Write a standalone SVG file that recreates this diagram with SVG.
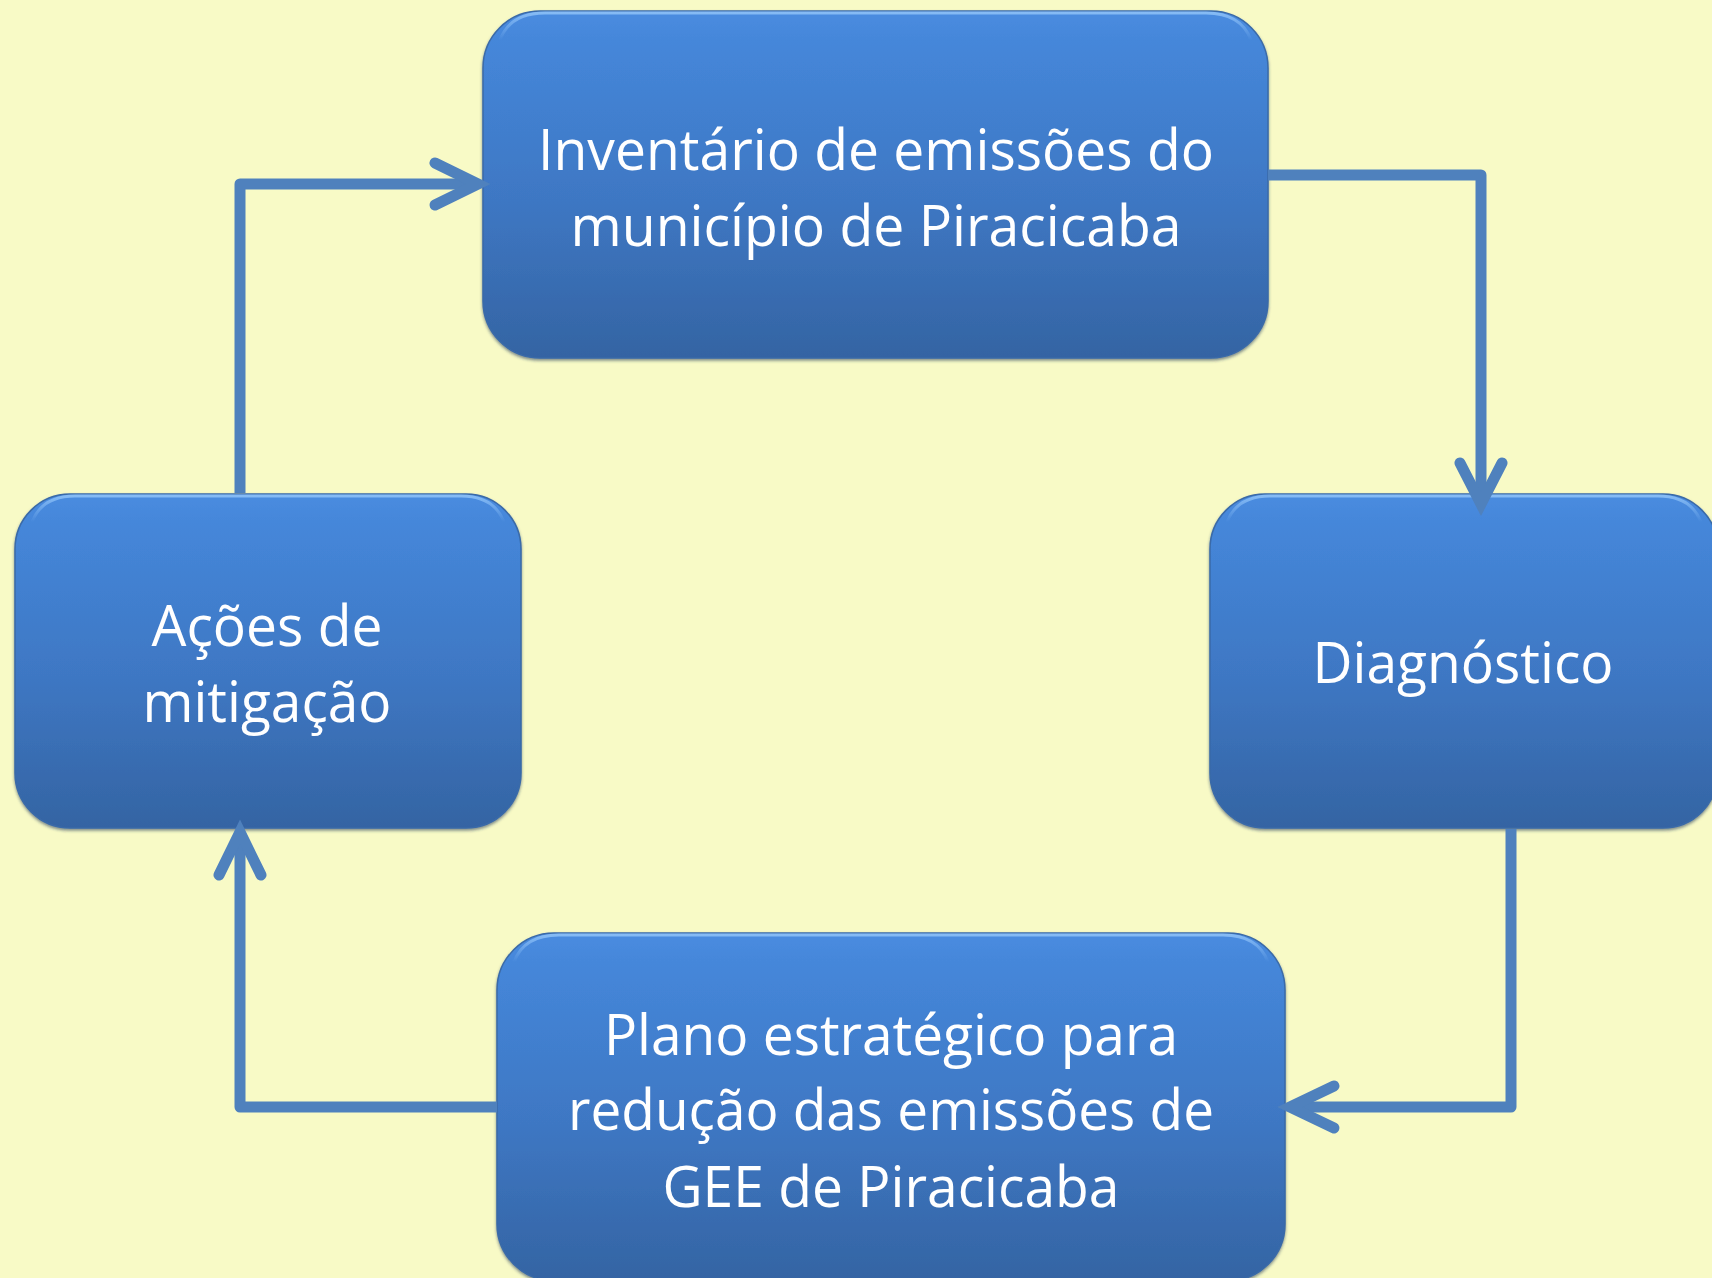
<svg xmlns="http://www.w3.org/2000/svg" width="1712" height="1278" viewBox="0 0 1712 1278">
  <defs>
    <linearGradient id="boxGrad" x1="0" y1="0" x2="0" y2="1">
      <stop offset="0" stop-color="#4a8ce0"/>
      <stop offset="0.08" stop-color="#4587da"/>
      <stop offset="0.55" stop-color="#3e77c3"/>
      <stop offset="1" stop-color="#3464a3"/>
    </linearGradient>
    <linearGradient id="hiGrad" x1="0" y1="0" x2="0" y2="1">
      <stop offset="0" stop-color="#8cc0f7" stop-opacity="0.9"/>
      <stop offset="1" stop-color="#8cc0f7" stop-opacity="0"/>
    </linearGradient>
    <filter id="shadow" x="-5%" y="-5%" width="110%" height="115%">
      <feDropShadow dx="0" dy="2" stdDeviation="1.5" flood-color="#1c3558" flood-opacity="0.55"/>
    </filter>
  </defs>
  <style>
    .box { fill: url(#boxGrad); stroke: #3a6aa8; stroke-width: 1.5; filter: url(#shadow); }
    .hi { fill: none; stroke: url(#hiGrad); stroke-width: 3; }
    .lbl { font-family: "Open Sans", "Noto Sans", "Liberation Sans", sans-serif; font-size: 57px; fill: #ffffff; text-anchor: middle; }
    .conn { fill: none; stroke: #4f81bd; stroke-width: 11; stroke-linejoin: round; }
    .head { fill: none; stroke: #4f81bd; stroke-width: 11; stroke-linecap: round; stroke-linejoin: miter; }
  </style>
  <rect x="0" y="0" width="1712" height="1278" fill="#f8fac6"/>

  <g id="node-inventario">
    <rect class="box" x="483" y="11" width="785" height="347" rx="57" ry="57"/>
    <path class="hi" d="M 500 40 Q 510 13 545 13 H 1206 Q 1241 13 1251 40"/>
    <text class="lbl" x="876" y="170" textLength="676" lengthAdjust="spacingAndGlyphs">Inventário de emissões do</text>
    <text class="lbl" x="876" y="246" textLength="611" lengthAdjust="spacingAndGlyphs">município de Piracicaba</text>
  </g>

  <g id="node-diagnostico">
    <rect class="box" x="1210" y="494" width="508" height="334" rx="55" ry="55"/>
    <path class="hi" d="M 1227 522 Q 1237 496 1270 496 H 1658 Q 1691 496 1701 522"/>
    <text class="lbl" x="1463" y="683" textLength="301" lengthAdjust="spacingAndGlyphs">Diagnóstico</text>
  </g>

  <g id="node-plano">
    <rect class="box" x="497" y="933" width="788" height="348" rx="57" ry="57"/>
    <path class="hi" d="M 514 962 Q 524 935 559 935 H 1223 Q 1258 935 1268 962"/>
    <text class="lbl" x="891" y="1055" textLength="574" lengthAdjust="spacingAndGlyphs">Plano estratégico para</text>
    <text class="lbl" x="891" y="1130" textLength="646" lengthAdjust="spacingAndGlyphs">redução das emissões de</text>
    <text class="lbl" x="891" y="1207" textLength="457" lengthAdjust="spacingAndGlyphs">GEE de Piracicaba</text>
  </g>

  <g id="node-acoes">
    <rect class="box" x="15" y="494" width="506" height="334" rx="55" ry="55"/>
    <path class="hi" d="M 32 522 Q 42 496 75 496 H 461 Q 494 496 504 522"/>
    <text class="lbl" x="267" y="646" textLength="231" lengthAdjust="spacingAndGlyphs">Ações de</text>
    <text class="lbl" x="267" y="722" textLength="249" lengthAdjust="spacingAndGlyphs">mitigação</text>
  </g>

  <g id="connectors">
    <path class="conn" d="M 240 493 V 184 H 478"/>
    <path class="head" d="M 435 163 L 478 184 L 435 205"/>
    <path class="conn" d="M 1268 175 H 1481 V 504"/>
    <path class="head" d="M 1460 463 L 1481 504 L 1502 463"/>
    <path class="conn" d="M 1511 829 V 1107 H 1290"/>
    <path class="head" d="M 1334 1086 L 1290 1107 L 1334 1128"/>
    <path class="conn" d="M 497 1107 H 240 V 832"/>
    <path class="head" d="M 219 875 L 240 832 L 261 875"/>
  </g>
</svg>
